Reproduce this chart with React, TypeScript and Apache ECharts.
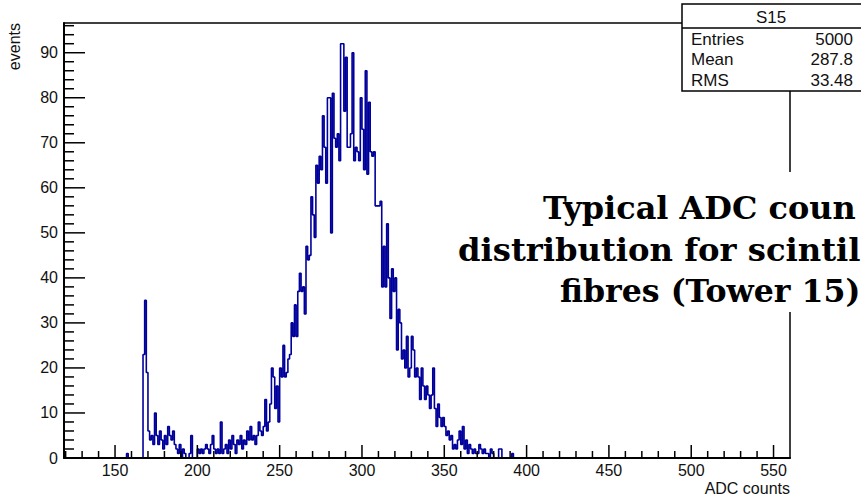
import React, { useEffect, useRef } from "react";
import * as echarts from "echarts";

// Histogram: bin width 1 ADC count, first bin low edge = binStart
const binStart = 155;
const counts = [
  // 155-164
  0, 0, 1, 0, 0, 0, 0, 0, 0, 0,
  // 165-174
  0, 0, 23, 35, 19, 6, 4, 5, 3, 10,
  // 175-184
  5, 3, 6, 4, 2, 5, 3, 7, 5, 4,
  // 185-194
  6, 3, 2, 1, 3, 0, 2, 1, 0, 0,
  // 195-204
  1, 5, 0, 0, 0, 2, 1, 2, 1, 2,
  // 205-214
  3, 2, 1, 3, 5, 2, 1, 2, 1, 8,
  // 215-224
  1, 2, 3, 1, 4, 2, 5, 3, 1, 4,
  // 225-234
  3, 5, 2, 4, 3, 6, 4, 7, 4, 5,
  // 235-244
  3, 5, 8, 6, 5, 7, 13, 6, 8, 12,
  // 245-254
  20, 18, 11, 16, 8, 20, 18, 25, 18, 19,
  // 255-264
  22, 23, 30, 27, 34, 27, 37, 41, 37, 38,
  // 265-274
  32, 47, 44, 45, 58, 54, 49, 65, 61, 67,
  // 275-284
  64, 76, 69, 61, 80, 80, 50, 81, 71, 69,
  // 285-294
  72, 66, 92, 92, 77, 89, 69, 69, 72, 90,
  // 295-304
  66, 69, 68, 66, 80, 73, 64, 86, 63, 79,
  // 305-314
  68, 67, 68, 56, 56, 56, 57, 38, 47, 38,
  // 315-324
  52, 40, 31, 42, 37, 40, 24, 33, 30, 22,
  // 325-334
  24, 20, 27, 18, 20, 27, 24, 18, 20, 18,
  // 335-344
  13, 20, 16, 13, 16, 14, 11, 14, 20, 11,
  // 345-354
  7, 12, 9, 7, 9, 7, 5, 6, 4, 5,
  // 355-364
  2, 3, 2, 4, 6, 3, 7, 2, 4, 1,
  // 365-374
  3, 2, 1, 2, 1, 1, 3, 2, 1, 2,
  // 375-384
  1, 1, 0, 2, 1, 0, 0, 0, 2, 2,
  // 385-392
  0, 0, 0, 0, 0, 0, 1, 0,
];

const xRange = [119, 560];
const yRange = [0, 96.6];
// ROOT-style inside ticks
const xMajorTicks = [150, 200, 250, 300, 350, 400, 450, 500, 550];
const xMinorTickStep = 10;
const yMajorTicks = [0, 10, 20, 30, 40, 50, 60, 70, 80, 90];
const yMinorTickStep = 2;
const yMajorStep = 10;

const statsTitle = "S15";
const statsLabels = ["Entries", "Mean", "RMS"];
const statsValues = ["5000", "287.8", "33.48"];
// the visible part of the slide caption (the slide crops it at the right edge)
const titleLines = ["Typical ADC coun", "distribution for scintil", "fibres (Tower 15)"];
const xAxisTitle = "ADC counts";
const yAxisTitle = "events";

const SANS = "'Liberation Sans', Arial, Helvetica, sans-serif";
const SLAB = "'DejaVu Serif', serif";

export default function App() {
  const ref = useRef<HTMLDivElement>(null);

  useEffect(() => {
    if (!ref.current) return;
    const chart = echarts.init(ref.current, null, { renderer: "svg" });

    const data: number[][] = counts.map((c, i) => [binStart + i, c]);
    data.push([binStart + counts.length, 0]);

    // tick marks: [value, 0 = x axis / 1 = y axis, length in px]
    const tickData: number[][] = [];
    for (let v = Math.ceil(xRange[0] / xMinorTickStep) * xMinorTickStep; v < xRange[1]; v += xMinorTickStep) {
      tickData.push([v, 0, xMajorTicks.includes(v) ? 13 : 7]);
    }
    for (let v = yMinorTickStep; v < yRange[1]; v += yMinorTickStep) {
      tickData.push([v, 1, yMajorTicks.includes(v) ? 21 : 10]);
    }

    const frameLine = { show: true, onZero: false, lineStyle: { color: "#000", width: 1.5 } };

    const xAxes = [
      {
        type: "value",
        min: xRange[0],
        max: xRange[1],
        position: "bottom",
        z: 3,
        splitNumber: Math.round((xRange[1] - xRange[0]) / 50),
        minInterval: 50,
        maxInterval: 50,
        splitLine: { show: false },
        axisLine: { show: true, onZero: false, lineStyle: { color: "#000", width: 2 } },
        axisTick: { show: false },
        axisLabel: {
          show: true,
          margin: 4,
          fontSize: 16,
          color: "#111",
          fontFamily: SANS,
          showMinLabel: false,
          showMaxLabel: false,
        },
      },
      {
        type: "value",
        min: xRange[0],
        max: xRange[1],
        position: "top",
        splitLine: { show: false },
        axisLine: frameLine,
        axisTick: { show: false },
        axisLabel: { show: false },
      },
    ];

    const yAxes = [
      {
        type: "value",
        min: yRange[0],
        max: yRange[1],
        position: "left",
        z: 3,
        interval: yMajorStep,
        splitLine: { show: false },
        axisLine: { show: true, onZero: false, lineStyle: { color: "#000", width: 2 } },
        axisTick: { show: false },
        axisLabel: {
          show: true,
          margin: 6,
          fontSize: 16,
          color: "#111",
          fontFamily: SANS,
          showMinLabel: true,
          showMaxLabel: false,
        },
      },
      {
        type: "value",
        min: yRange[0],
        max: yRange[1],
        position: "right",
        splitLine: { show: false },
        axisLine: frameLine,
        axisTick: { show: false },
        axisLabel: { show: false },
      },
    ];

    const statsRowY = [39, 59, 80];
    const titleX = [543, 458, 560];
    const titleY = [208, 250, 291];
    const titleScale = [1.03, 1.04, 1.02];

    const graphic: any[] = [
      {
        type: "text",
        x: 14,
        y: 23,
        rotation: Math.PI / 2,
        z: 20,
        style: {
          text: yAxisTitle,
          fontSize: 16,
          fontFamily: SANS,
          fill: "#111",
          align: "right",
          verticalAlign: "middle",
        },
      },
      {
        type: "text",
        x: 790,
        y: 488,
        z: 20,
        style: {
          text: xAxisTitle,
          fontSize: 16,
          fontFamily: SANS,
          fill: "#111",
          align: "right",
          verticalAlign: "middle",
        },
      },
      {
        type: "rect",
        z: 20,
        shape: { x: 682, y: 4, width: 200, height: 87 },
        style: { fill: "#fff", stroke: "#000", lineWidth: 1.5 },
      },
      {
        type: "line",
        z: 21,
        shape: { x1: 682, y1: 28, x2: 861, y2: 28 },
        style: { stroke: "#000", lineWidth: 1.5 },
      },
      {
        type: "text",
        x: 771,
        y: 17,
        z: 22,
        style: {
          text: statsTitle,
          fontSize: 17,
          fontFamily: SANS,
          fill: "#111",
          align: "center",
          verticalAlign: "middle",
        },
      },
      ...statsLabels.map((lab, i) => ({
        type: "text",
        x: 691,
        y: statsRowY[i],
        z: 22,
        style: {
          text: lab,
          fontSize: 17,
          fontFamily: SANS,
          fill: "#111",
          align: "left",
          verticalAlign: "middle",
        },
      })),
      ...statsValues.map((val, i) => ({
        type: "text",
        x: 853,
        y: statsRowY[i],
        z: 22,
        style: {
          text: val,
          fontSize: 17,
          fontFamily: SANS,
          fill: "#111",
          align: "right",
          verticalAlign: "middle",
        },
      })),
      {
        type: "rect",
        z: 20,
        shape: { x: 452, y: 172, width: 420, height: 140 },
        style: { fill: "#fff" },
      },
      ...titleLines.map((line, i) => ({
        type: "text",
        x: titleX[i],
        y: titleY[i],
        scaleX: titleScale[i],
        z: 22,
        style: {
          text: line,
          fontSize: 31,
          fontWeight: "bold",
          fontFamily: SLAB,
          fill: "#000",
          align: "left",
          verticalAlign: "middle",
        },
      })),
    ];

    chart.setOption({
      animation: false,
      backgroundColor: "#fff",
      grid: { left: 64, right: 71, top: 23, bottom: 38, show: false },
      xAxis: xAxes,
      yAxis: yAxes,
      series: [
        {
          type: "line",
          xAxisIndex: 0,
          yAxisIndex: 0,
          data,
          step: "end",
          symbol: "none",
          showSymbol: false,
          z: 2,
          lineStyle: { color: "#00009a", width: 1.6 },
        },
      ],
    });

    // tick marks placed through the chart's own scales
    const tickGraphics = tickData.map(([v, axis, len]) => {
      if (axis === 0) {
        const p = chart.convertToPixel({ gridIndex: 0 }, [v, yRange[0]]) as number[];
        return {
          type: "line",
          z: 10,
          silent: true,
          shape: { x1: p[0], y1: p[1], x2: p[0], y2: p[1] - len },
          style: { stroke: "#000", lineWidth: 1.5 },
        };
      }
      const p = chart.convertToPixel({ gridIndex: 0 }, [xRange[0], v]) as number[];
      return {
        type: "line",
        z: 10,
        silent: true,
        shape: { x1: p[0], y1: p[1], x2: p[0] + len, y2: p[1] },
        style: { stroke: "#000", lineWidth: 1.5 },
      };
    });

    chart.setOption({ graphic: [...tickGraphics, ...graphic] });

    return () => chart.dispose();
  }, []);

  return (
    <div
      ref={ref}
      style={{ position: "fixed", left: 0, top: 0, width: 861, height: 496, background: "#fff" }}
    />
  );
}
